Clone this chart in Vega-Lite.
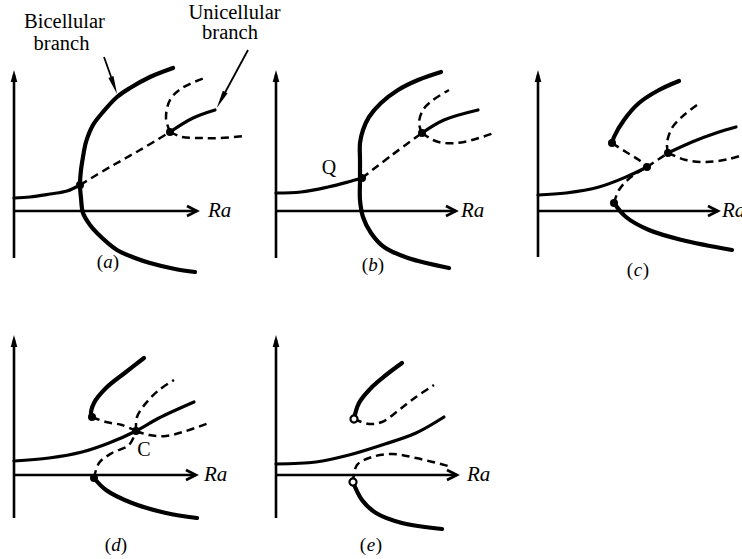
{
  "$schema": "https://vega.github.io/schema/vega-lite/v6.json",
  "padding": 0,
  "background": "white",
  "bounds": "flush",
  "config": {"view": {"stroke": null}},
  "data": {"values": [
    {"panel":"a","type":"axis","curve":"ya","x":0,"y":-4.7},{"panel":"a","type":"axis","curve":"ya","x":0,"y":13.6},
    {"panel":"a","type":"axis","curve":"xa","x":0,"y":0},{"panel":"a","type":"axis","curve":"xa","x":18.3,"y":0},
    {"panel":"a","type":"axis","curve":"xh","x":17.3,"y":0.5},{"panel":"a","type":"axis","curve":"xh","x":18.3,"y":0},{"panel":"a","type":"axis","curve":"xh","x":17.3,"y":-0.5},
    {"panel":"a","type":"yhead","x":0,"y":13.5},
    {"panel":"a","type":"ra","label":"Ra","x":19.4,"y":0},
    {"panel":"a","type":"tag","label":"a","x":9.4,"y":-5.1},

    {"panel":"b","type":"axis","curve":"ya","x":0,"y":-4.7},{"panel":"b","type":"axis","curve":"ya","x":0,"y":13.6},
    {"panel":"b","type":"axis","curve":"xa","x":0,"y":0},{"panel":"b","type":"axis","curve":"xa","x":18.0,"y":0},
    {"panel":"b","type":"axis","curve":"xh","x":17.0,"y":0.5},{"panel":"b","type":"axis","curve":"xh","x":18.0,"y":0},{"panel":"b","type":"axis","curve":"xh","x":17.0,"y":-0.5},
    {"panel":"b","type":"yhead","x":0,"y":13.5},
    {"panel":"b","type":"ra","label":"Ra","x":18.5,"y":0},
    {"panel":"b","type":"tag","label":"b","x":9.7,"y":-5.4},

    {"panel":"c","type":"axis","curve":"ya","x":0,"y":-4.6},{"panel":"c","type":"axis","curve":"ya","x":0,"y":13.6},
    {"panel":"c","type":"axis","curve":"xa","x":0,"y":0},{"panel":"c","type":"axis","curve":"xa","x":18.0,"y":0},
    {"panel":"c","type":"axis","curve":"xh","x":17.0,"y":0.5},{"panel":"c","type":"axis","curve":"xh","x":18.0,"y":0},{"panel":"c","type":"axis","curve":"xh","x":17.0,"y":-0.5},
    {"panel":"c","type":"yhead","x":0,"y":13.5},
    {"panel":"c","type":"ra","label":"Ra","x":18.4,"y":0},
    {"panel":"c","type":"tag","label":"c","x":10.0,"y":-5.9},

    {"panel":"d","type":"axis","curve":"ya","x":0,"y":-4.3},{"panel":"d","type":"axis","curve":"ya","x":0,"y":13.5},
    {"panel":"d","type":"axis","curve":"xa","x":0,"y":0},{"panel":"d","type":"axis","curve":"xa","x":18.2,"y":0},
    {"panel":"d","type":"axis","curve":"xh","x":17.2,"y":0.5},{"panel":"d","type":"axis","curve":"xh","x":18.2,"y":0},{"panel":"d","type":"axis","curve":"xh","x":17.2,"y":-0.5},
    {"panel":"d","type":"yhead","x":0,"y":13.4},
    {"panel":"d","type":"ra","label":"Ra","x":19.0,"y":0},
    {"panel":"d","type":"tag","label":"d","x":10.2,"y":-7.0},

    {"panel":"e","type":"axis","curve":"ya","x":0,"y":-4.3},{"panel":"e","type":"axis","curve":"ya","x":0,"y":13.5},
    {"panel":"e","type":"axis","curve":"xa","x":0,"y":0},{"panel":"e","type":"axis","curve":"xa","x":18.1,"y":0},
    {"panel":"e","type":"axis","curve":"xh","x":17.1,"y":0.5},{"panel":"e","type":"axis","curve":"xh","x":18.1,"y":0},{"panel":"e","type":"axis","curve":"xh","x":17.1,"y":-0.5},
    {"panel":"e","type":"yhead","x":0,"y":13.4},
    {"panel":"e","type":"ra","label":"Ra","x":19.1,"y":0},
    {"panel":"e","type":"tag","label":"e","x":9.5,"y":-7.0},

    {"panel":"a","type":"stable","branch":"unicellular","curve":"a1","x":0,"y":1.3},
    {"panel":"a","type":"stable","branch":"unicellular","curve":"a1","x":1.6,"y":1.4},
    {"panel":"a","type":"stable","branch":"unicellular","curve":"a1","x":3.6,"y":1.7},
    {"panel":"a","type":"stable","branch":"unicellular","curve":"a1","x":5.3,"y":2.0},
    {"panel":"a","type":"stable","branch":"unicellular","curve":"a1","x":6.6,"y":2.6},
    {"panel":"a","type":"stable","branch":"bicellular","curve":"a2","x":15.9,"y":14.3},
    {"panel":"a","type":"stable","branch":"bicellular","curve":"a2","x":13.6,"y":13.4},
    {"panel":"a","type":"stable","branch":"bicellular","curve":"a2","x":11.6,"y":12.3},
    {"panel":"a","type":"stable","branch":"bicellular","curve":"a2","x":10.3,"y":11.4},
    {"panel":"a","type":"stable","branch":"bicellular","curve":"a2","x":8.9,"y":9.9},
    {"panel":"a","type":"stable","branch":"bicellular","curve":"a2","x":7.9,"y":8.6},
    {"panel":"a","type":"stable","branch":"bicellular","curve":"a2","x":7.2,"y":6.9},
    {"panel":"a","type":"stable","branch":"bicellular","curve":"a2","x":6.9,"y":5.4},
    {"panel":"a","type":"stable","branch":"bicellular","curve":"a2","x":6.7,"y":4.1},
    {"panel":"a","type":"stable","branch":"bicellular","curve":"a2","x":6.6,"y":2.6},
    {"panel":"a","type":"stable","branch":"bicellular","curve":"a2","x":6.7,"y":1.3},
    {"panel":"a","type":"stable","branch":"bicellular","curve":"a2","x":6.9,"y":-0.2},
    {"panel":"a","type":"stable","branch":"bicellular","curve":"a2","x":7.6,"y":-1.4},
    {"panel":"a","type":"stable","branch":"bicellular","curve":"a2","x":8.3,"y":-2.2},
    {"panel":"a","type":"stable","branch":"bicellular","curve":"a2","x":10.3,"y":-3.9},
    {"panel":"a","type":"stable","branch":"bicellular","curve":"a2","x":12.1,"y":-4.7},
    {"panel":"a","type":"stable","branch":"bicellular","curve":"a2","x":13.6,"y":-5.2},
    {"panel":"a","type":"stable","branch":"bicellular","curve":"a2","x":16.1,"y":-5.8},
    {"panel":"a","type":"stable","branch":"bicellular","curve":"a2","x":18.1,"y":-6.1},
    {"panel":"a","type":"unstable","curve":"a3","x":6.6,"y":2.6},
    {"panel":"a","type":"unstable","curve":"a3","x":9.6,"y":4.4},
    {"panel":"a","type":"unstable","curve":"a3","x":12.6,"y":6.1},
    {"panel":"a","type":"unstable","curve":"a3","x":15.6,"y":7.9},
    {"panel":"a","type":"stable","branch":"unicellular","curve":"a4","x":15.6,"y":7.9},
    {"panel":"a","type":"stable","branch":"unicellular","curve":"a4","x":17.9,"y":9.3},
    {"panel":"a","type":"stable","branch":"unicellular","curve":"a4","x":20.1,"y":10.1},
    {"panel":"a","type":"unstable","curve":"a5","x":15.6,"y":7.9},
    {"panel":"a","type":"unstable","curve":"a5","x":15.2,"y":9.3},
    {"panel":"a","type":"unstable","curve":"a5","x":15.6,"y":11.1},
    {"panel":"a","type":"unstable","curve":"a5","x":16.8,"y":12.3},
    {"panel":"a","type":"unstable","curve":"a5","x":19.3,"y":13.4},
    {"panel":"a","type":"unstable","curve":"a6","x":15.6,"y":7.9},
    {"panel":"a","type":"unstable","curve":"a6","x":16.8,"y":7.4},
    {"panel":"a","type":"unstable","curve":"a6","x":18.6,"y":7.3},
    {"panel":"a","type":"unstable","curve":"a6","x":20.6,"y":7.3},
    {"panel":"a","type":"unstable","curve":"a6","x":23.1,"y":7.5},
    {"panel":"a","type":"dot","x":6.6,"y":2.6},
    {"panel":"a","type":"dot","x":15.6,"y":7.9},
    {"panel":"a","type":"pointer","curve":"p1","x":9.0,"y":15.4},
    {"panel":"a","type":"pointer","curve":"p1","x":10.0,"y":12.6},
    {"panel":"a","type":"pointer","curve":"p2","x":23.4,"y":16.1},
    {"panel":"a","type":"pointer","curve":"p2","x":20.7,"y":11.1},
    {"panel":"a","type":"head","curve":"h1","x":10.0,"y":12.55},
    {"panel":"a","type":"head","curve":"h2","x":20.7,"y":11.1},
    {"panel":"a","type":"note","label":"Bicellular","x":5.05,"y":18.3},
    {"panel":"a","type":"note","label":"branch","x":4.75,"y":16.1},
    {"panel":"a","type":"note","label":"Unicellular","x":22.05,"y":19.2},
    {"panel":"a","type":"note","label":"branch","x":21.6,"y":17.2},

    {"panel":"b","type":"stable","branch":"unicellular","curve":"b1","x":0,"y":1.8},
    {"panel":"b","type":"stable","branch":"unicellular","curve":"b1","x":2.5,"y":1.9},
    {"panel":"b","type":"stable","branch":"unicellular","curve":"b1","x":5.2,"y":2.4},
    {"panel":"b","type":"stable","branch":"unicellular","curve":"b1","x":7.2,"y":2.9},
    {"panel":"b","type":"stable","branch":"unicellular","curve":"b1","x":8.6,"y":3.3},
    {"panel":"b","type":"stable","branch":"bicellular","curve":"b2","x":16.5,"y":13.9},
    {"panel":"b","type":"stable","branch":"bicellular","curve":"b2","x":14.2,"y":13.1},
    {"panel":"b","type":"stable","branch":"bicellular","curve":"b2","x":12.2,"y":12.1},
    {"panel":"b","type":"stable","branch":"bicellular","curve":"b2","x":10.5,"y":10.8},
    {"panel":"b","type":"stable","branch":"bicellular","curve":"b2","x":9.3,"y":9.4},
    {"panel":"b","type":"stable","branch":"bicellular","curve":"b2","x":8.7,"y":8.1},
    {"panel":"b","type":"stable","branch":"bicellular","curve":"b2","x":8.4,"y":6.8},
    {"panel":"b","type":"stable","branch":"bicellular","curve":"b2","x":8.4,"y":5.1},
    {"panel":"b","type":"stable","branch":"bicellular","curve":"b2","x":8.4,"y":3.1},
    {"panel":"b","type":"stable","branch":"bicellular","curve":"b2","x":8.4,"y":1.1},
    {"panel":"b","type":"stable","branch":"bicellular","curve":"b2","x":8.7,"y":-0.6},
    {"panel":"b","type":"stable","branch":"bicellular","curve":"b2","x":9.5,"y":-2.2},
    {"panel":"b","type":"stable","branch":"bicellular","curve":"b2","x":10.8,"y":-3.6},
    {"panel":"b","type":"stable","branch":"bicellular","curve":"b2","x":13.2,"y":-4.7},
    {"panel":"b","type":"stable","branch":"bicellular","curve":"b2","x":17.3,"y":-5.7},
    {"panel":"b","type":"unstable","curve":"b3","x":8.6,"y":3.3},
    {"panel":"b","type":"unstable","curve":"b3","x":11.6,"y":5.6},
    {"panel":"b","type":"unstable","curve":"b3","x":14.6,"y":7.8},
    {"panel":"b","type":"stable","branch":"unicellular","curve":"b4","x":14.6,"y":7.8},
    {"panel":"b","type":"stable","branch":"unicellular","curve":"b4","x":16.8,"y":9.1},
    {"panel":"b","type":"stable","branch":"unicellular","curve":"b4","x":20.2,"y":10.1},
    {"panel":"b","type":"unstable","curve":"b5","x":14.6,"y":7.8},
    {"panel":"b","type":"unstable","curve":"b5","x":14.3,"y":8.8},
    {"panel":"b","type":"unstable","curve":"b5","x":14.7,"y":10.1},
    {"panel":"b","type":"unstable","curve":"b5","x":15.7,"y":11.1},
    {"panel":"b","type":"unstable","curve":"b5","x":17.3,"y":12.1},
    {"panel":"b","type":"unstable","curve":"b6","x":14.6,"y":7.8},
    {"panel":"b","type":"unstable","curve":"b6","x":15.7,"y":7.1},
    {"panel":"b","type":"unstable","curve":"b6","x":16.8,"y":6.8},
    {"panel":"b","type":"unstable","curve":"b6","x":18.8,"y":6.9},
    {"panel":"b","type":"unstable","curve":"b6","x":21.8,"y":7.8},
    {"panel":"b","type":"dot","x":8.6,"y":3.3},
    {"panel":"b","type":"dot","x":14.6,"y":7.8},
    {"panel":"b","type":"sym","label":"Q","x":5.3,"y":4.3},

    {"panel":"c","type":"stable","branch":"unicellular","curve":"c1","x":0,"y":1.6},
    {"panel":"c","type":"stable","branch":"unicellular","curve":"c1","x":2.8,"y":1.8},
    {"panel":"c","type":"stable","branch":"unicellular","curve":"c1","x":6.1,"y":2.4},
    {"panel":"c","type":"stable","branch":"unicellular","curve":"c1","x":8.8,"y":3.4},
    {"panel":"c","type":"stable","branch":"unicellular","curve":"c1","x":10.9,"y":4.4},
    {"panel":"c","type":"unstable","curve":"c2","x":10.9,"y":4.4},
    {"panel":"c","type":"unstable","curve":"c2","x":13.0,"y":5.8},
    {"panel":"c","type":"stable","branch":"bicellular","curve":"c3","x":14.1,"y":13.0},
    {"panel":"c","type":"stable","branch":"bicellular","curve":"c3","x":12.1,"y":12.1},
    {"panel":"c","type":"stable","branch":"bicellular","curve":"c3","x":10.1,"y":10.8},
    {"panel":"c","type":"stable","branch":"bicellular","curve":"c3","x":8.6,"y":9.1},
    {"panel":"c","type":"stable","branch":"bicellular","curve":"c3","x":7.6,"y":7.4},
    {"panel":"c","type":"stable","branch":"bicellular","curve":"c3","x":7.4,"y":6.8},
    {"panel":"c","type":"unstable","curve":"c4","x":7.4,"y":6.8},
    {"panel":"c","type":"unstable","curve":"c4","x":8.8,"y":5.9},
    {"panel":"c","type":"unstable","curve":"c4","x":10.1,"y":5.1},
    {"panel":"c","type":"unstable","curve":"c4","x":10.9,"y":4.4},
    {"panel":"c","type":"stable","branch":"bicellular","curve":"c5","x":7.6,"y":0.8},
    {"panel":"c","type":"stable","branch":"bicellular","curve":"c5","x":8.8,"y":-0.6},
    {"panel":"c","type":"stable","branch":"bicellular","curve":"c5","x":11.1,"y":-1.9},
    {"panel":"c","type":"stable","branch":"bicellular","curve":"c5","x":14.4,"y":-2.9},
    {"panel":"c","type":"stable","branch":"bicellular","curve":"c5","x":19.4,"y":-3.9},
    {"panel":"c","type":"unstable","curve":"c6","x":7.6,"y":0.8},
    {"panel":"c","type":"unstable","curve":"c6","x":8.1,"y":2.1},
    {"panel":"c","type":"unstable","curve":"c6","x":9.3,"y":3.4},
    {"panel":"c","type":"unstable","curve":"c6","x":10.9,"y":4.4},
    {"panel":"c","type":"stable","branch":"unicellular","curve":"c7","x":13.0,"y":5.8},
    {"panel":"c","type":"stable","branch":"unicellular","curve":"c7","x":15.4,"y":6.9},
    {"panel":"c","type":"stable","branch":"unicellular","curve":"c7","x":17.8,"y":7.8},
    {"panel":"c","type":"stable","branch":"unicellular","curve":"c7","x":19.8,"y":8.4},
    {"panel":"c","type":"unstable","curve":"c8","x":13.0,"y":5.8},
    {"panel":"c","type":"unstable","curve":"c8","x":12.9,"y":6.8},
    {"panel":"c","type":"unstable","curve":"c8","x":13.4,"y":8.3},
    {"panel":"c","type":"unstable","curve":"c8","x":14.6,"y":9.6},
    {"panel":"c","type":"unstable","curve":"c8","x":15.9,"y":10.6},
    {"panel":"c","type":"unstable","curve":"c9","x":13.0,"y":5.8},
    {"panel":"c","type":"unstable","curve":"c9","x":14.8,"y":5.1},
    {"panel":"c","type":"unstable","curve":"c9","x":16.8,"y":4.9},
    {"panel":"c","type":"unstable","curve":"c9","x":19.1,"y":5.2},
    {"panel":"c","type":"unstable","curve":"c9","x":20.8,"y":5.7},
    {"panel":"c","type":"dot","x":7.4,"y":6.8},
    {"panel":"c","type":"dot","x":7.6,"y":0.8},
    {"panel":"c","type":"dot","x":10.9,"y":4.4},
    {"panel":"c","type":"dot","x":13.0,"y":5.8},

    {"panel":"d","type":"stable","branch":"unicellular","curve":"d1","x":0,"y":1.4},
    {"panel":"d","type":"stable","branch":"unicellular","curve":"d1","x":3.5,"y":1.7},
    {"panel":"d","type":"stable","branch":"unicellular","curve":"d1","x":6.8,"y":2.3},
    {"panel":"d","type":"stable","branch":"unicellular","curve":"d1","x":9.5,"y":3.2},
    {"panel":"d","type":"stable","branch":"unicellular","curve":"d1","x":12.2,"y":4.4},
    {"panel":"d","type":"stable","branch":"unicellular","curve":"d1","x":14.5,"y":5.7},
    {"panel":"d","type":"stable","branch":"unicellular","curve":"d1","x":18.0,"y":7.3},
    {"panel":"d","type":"stable","branch":"bicellular","curve":"d2","x":13.0,"y":11.7},
    {"panel":"d","type":"stable","branch":"bicellular","curve":"d2","x":11.2,"y":10.3},
    {"panel":"d","type":"stable","branch":"bicellular","curve":"d2","x":9.2,"y":8.7},
    {"panel":"d","type":"stable","branch":"bicellular","curve":"d2","x":8.0,"y":7.2},
    {"panel":"d","type":"stable","branch":"bicellular","curve":"d2","x":7.7,"y":6.0},
    {"panel":"d","type":"stable","branch":"bicellular","curve":"d2","x":7.8,"y":5.8},
    {"panel":"d","type":"unstable","curve":"d3","x":7.8,"y":5.8},
    {"panel":"d","type":"unstable","curve":"d3","x":9.2,"y":5.3},
    {"panel":"d","type":"unstable","curve":"d3","x":10.8,"y":5.0},
    {"panel":"d","type":"unstable","curve":"d3","x":12.2,"y":4.4},
    {"panel":"d","type":"unstable","curve":"d4","x":12.2,"y":4.4},
    {"panel":"d","type":"unstable","curve":"d4","x":12.3,"y":5.8},
    {"panel":"d","type":"unstable","curve":"d4","x":13.2,"y":7.2},
    {"panel":"d","type":"unstable","curve":"d4","x":14.5,"y":8.5},
    {"panel":"d","type":"unstable","curve":"d4","x":16.0,"y":9.5},
    {"panel":"d","type":"unstable","curve":"d5","x":12.2,"y":4.4},
    {"panel":"d","type":"unstable","curve":"d5","x":13.5,"y":4.0},
    {"panel":"d","type":"unstable","curve":"d5","x":15.2,"y":3.9},
    {"panel":"d","type":"unstable","curve":"d5","x":17.2,"y":4.4},
    {"panel":"d","type":"unstable","curve":"d5","x":19.5,"y":5.2},
    {"panel":"d","type":"stable","branch":"bicellular","curve":"d6","x":8.0,"y":-0.3},
    {"panel":"d","type":"stable","branch":"bicellular","curve":"d6","x":9.2,"y":-1.5},
    {"panel":"d","type":"stable","branch":"bicellular","curve":"d6","x":11.8,"y":-2.8},
    {"panel":"d","type":"stable","branch":"bicellular","curve":"d6","x":15.2,"y":-3.8},
    {"panel":"d","type":"stable","branch":"bicellular","curve":"d6","x":18.3,"y":-4.3},
    {"panel":"d","type":"unstable","curve":"d7","x":8.0,"y":-0.3},
    {"panel":"d","type":"unstable","curve":"d7","x":8.5,"y":1.2},
    {"panel":"d","type":"unstable","curve":"d7","x":9.8,"y":2.2},
    {"panel":"d","type":"unstable","curve":"d7","x":11.5,"y":3.0},
    {"panel":"d","type":"unstable","curve":"d7","x":12.2,"y":4.4},
    {"panel":"d","type":"dot","x":7.8,"y":5.8},
    {"panel":"d","type":"dot","x":12.2,"y":4.4},
    {"panel":"d","type":"dot","x":8.0,"y":-0.3},
    {"panel":"d","type":"sym","label":"C","x":13.0,"y":2.5},

    {"panel":"e","type":"stable","branch":"unicellular","curve":"e1","x":0,"y":1.1},
    {"panel":"e","type":"stable","branch":"unicellular","curve":"e1","x":4.0,"y":1.3},
    {"panel":"e","type":"stable","branch":"unicellular","curve":"e1","x":7.3,"y":2.0},
    {"panel":"e","type":"stable","branch":"unicellular","curve":"e1","x":10.6,"y":3.0},
    {"panel":"e","type":"stable","branch":"unicellular","curve":"e1","x":14.0,"y":4.2},
    {"panel":"e","type":"stable","branch":"unicellular","curve":"e1","x":16.8,"y":5.8},
    {"panel":"e","type":"stable","branch":"bicellular","curve":"e2","x":7.8,"y":5.6},
    {"panel":"e","type":"stable","branch":"bicellular","curve":"e2","x":8.3,"y":7.2},
    {"panel":"e","type":"stable","branch":"bicellular","curve":"e2","x":9.6,"y":8.8},
    {"panel":"e","type":"stable","branch":"bicellular","curve":"e2","x":11.0,"y":10.0},
    {"panel":"e","type":"stable","branch":"bicellular","curve":"e2","x":12.6,"y":11.2},
    {"panel":"e","type":"unstable","curve":"e3","x":7.8,"y":5.6},
    {"panel":"e","type":"unstable","curve":"e3","x":9.3,"y":5.1},
    {"panel":"e","type":"unstable","curve":"e3","x":10.6,"y":5.3},
    {"panel":"e","type":"unstable","curve":"e3","x":12.3,"y":6.5},
    {"panel":"e","type":"unstable","curve":"e3","x":14.0,"y":7.8},
    {"panel":"e","type":"unstable","curve":"e3","x":15.8,"y":9.0},
    {"panel":"e","type":"stable","branch":"bicellular","curve":"e4","x":7.7,"y":-0.7},
    {"panel":"e","type":"stable","branch":"bicellular","curve":"e4","x":8.6,"y":-2.5},
    {"panel":"e","type":"stable","branch":"bicellular","curve":"e4","x":10.0,"y":-3.8},
    {"panel":"e","type":"stable","branch":"bicellular","curve":"e4","x":12.6,"y":-4.8},
    {"panel":"e","type":"stable","branch":"bicellular","curve":"e4","x":16.6,"y":-5.4},
    {"panel":"e","type":"unstable","curve":"e5","x":7.7,"y":-0.7},
    {"panel":"e","type":"unstable","curve":"e5","x":8.1,"y":1.0},
    {"panel":"e","type":"unstable","curve":"e5","x":9.6,"y":1.8},
    {"panel":"e","type":"unstable","curve":"e5","x":11.6,"y":2.1},
    {"panel":"e","type":"unstable","curve":"e5","x":14.0,"y":1.7},
    {"panel":"e","type":"unstable","curve":"e5","x":17.6,"y":0.8},
    {"panel":"e","type":"open","x":7.8,"y":5.6},
    {"panel":"e","type":"open","x":7.7,"y":-0.7}
  ]},
  "transform": [
    {
      "lookup": "panel",
      "from": {
        "data": {"values": [
          {"panel": "a", "row": 1, "col": 1},
          {"panel": "b", "row": 1, "col": 2},
          {"panel": "c", "row": 1, "col": 3},
          {"panel": "d", "row": 2, "col": 1},
          {"panel": "e", "row": 2, "col": 2}
        ]},
        "key": "panel",
        "fields": ["row", "col"]
      }
    }
  ],
  "facet": {
    "row": {"field": "row", "type": "ordinal", "title": null, "header": {"labels": false, "title": null}},
    "column": {"field": "col", "type": "ordinal", "title": null, "header": {"labels": false, "title": null}}
  },
  "spacing": {"row": 3, "column": 28},
  "spec": {
    "width": 234,
    "height": 261,
    "encoding": {
      "x": {"field": "x", "type": "quantitative", "scale": {"domain": [-1.4, 22], "nice": false, "zero": false}, "axis": null},
      "y": {"field": "y", "type": "quantitative", "scale": {"domain": [-5, 21.1], "nice": false, "zero": false}, "axis": null}
    },
    "layer": [
      {
        "transform": [{"filter": "datum.type == 'axis'"}],
        "mark": {"type": "line", "color": "black", "strokeWidth": 2.6, "strokeJoin": "miter"},
        "encoding": {"detail": {"field": "curve"}, "order": {"value": null}}
      },
      {
        "transform": [{"filter": "datum.type == 'yhead'"}],
        "mark": {"type": "point", "shape": "M0,-1L0.55,1L-0.55,1Z", "filled": true, "color": "black", "opacity": 1, "size": 144}
      },
      {
        "transform": [{"filter": "datum.type == 'pointer'"}],
        "mark": {"type": "line", "color": "black", "strokeWidth": 1.8},
        "encoding": {"detail": {"field": "curve"}, "order": {"value": null}}
      },
      {
        "transform": [{"filter": "datum.curve == 'h1'"}],
        "mark": {"type": "point", "shape": "M0,-1L0.3,1L-0.3,1Z", "filled": true, "color": "black", "opacity": 1, "size": 324, "angle": 160}
      },
      {
        "transform": [{"filter": "datum.curve == 'h2'"}],
        "mark": {"type": "point", "shape": "M0,-1L0.3,1L-0.3,1Z", "filled": true, "color": "black", "opacity": 1, "size": 324, "angle": 208}
      },
      {
        "transform": [{"filter": "datum.type == 'unstable'"}],
        "mark": {"type": "line", "color": "black", "strokeWidth": 2.5, "strokeDash": [8, 5], "interpolate": "catmull-rom"},
        "encoding": {"detail": {"field": "curve"}, "order": {"value": null}}
      },
      {
        "transform": [{"filter": "datum.type == 'stable'"}],
        "mark": {"type": "line", "color": "black", "strokeCap": "round", "interpolate": "catmull-rom"},
        "encoding": {
          "detail": {"field": "curve"},
          "order": {"value": null},
          "strokeWidth": {"field": "branch", "type": "nominal", "scale": {"domain": ["bicellular", "unicellular"], "range": [4.2, 3.2]}, "legend": null}
        }
      },
      {
        "transform": [{"filter": "datum.type == 'dot'"}],
        "mark": {"type": "point", "shape": "circle", "filled": true, "color": "black", "opacity": 1, "size": 64}
      },
      {
        "transform": [{"filter": "datum.type == 'open'"}],
        "mark": {"type": "point", "shape": "circle", "filled": true, "fill": "white", "stroke": "black", "strokeWidth": 2.2, "opacity": 1, "size": 50}
      },
      {
        "transform": [{"filter": "datum.type == 'note'"}],
        "mark": {"type": "text", "font": "Liberation Serif", "fontSize": 20.5, "align": "center", "baseline": "alphabetic", "color": "black"},
        "encoding": {"text": {"field": "label"}}
      },
      {
        "transform": [{"filter": "datum.type == 'ra'"}],
        "mark": {"type": "text", "font": "Liberation Serif", "fontSize": 21, "fontStyle": "italic", "align": "left", "baseline": "middle", "color": "black"},
        "encoding": {"text": {"field": "label"}}
      },
      {
        "transform": [{"filter": "datum.type == 'sym'"}],
        "mark": {"type": "text", "font": "Liberation Serif", "fontSize": 20, "align": "center", "baseline": "middle", "color": "black"},
        "encoding": {"text": {"field": "label"}}
      },
      {
        "transform": [{"filter": "datum.type == 'tag'"}],
        "mark": {"type": "text", "font": "Liberation Serif", "fontSize": 19, "fontStyle": "italic", "align": "center", "baseline": "middle", "color": "black"},
        "encoding": {"text": {"field": "label"}}
      },
      {
        "transform": [{"filter": "datum.type == 'tag'"}],
        "mark": {"type": "text", "font": "Liberation Serif", "fontSize": 19, "align": "center", "baseline": "middle", "color": "black", "dx": -8},
        "encoding": {"text": {"value": "("}}
      },
      {
        "transform": [{"filter": "datum.type == 'tag'"}],
        "mark": {"type": "text", "font": "Liberation Serif", "fontSize": 19, "align": "center", "baseline": "middle", "color": "black", "dx": 8},
        "encoding": {"text": {"value": ")"}}
      }
    ]
  }
}
